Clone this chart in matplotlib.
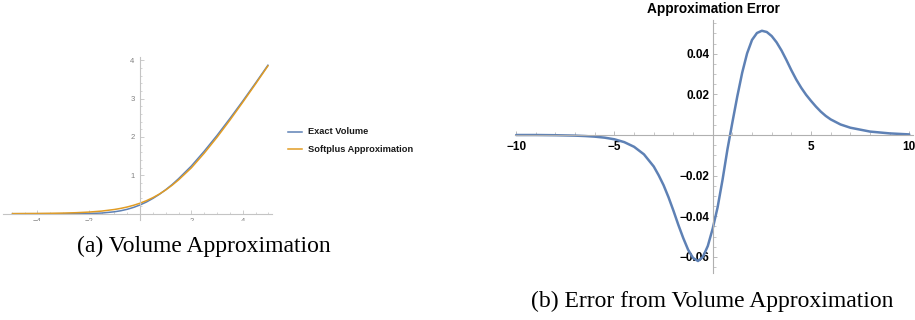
import matplotlib
matplotlib.use('Agg')
import matplotlib.pyplot as plt
from matplotlib.ticker import FixedLocator, MultipleLocator, FuncFormatter, NullFormatter
from matplotlib.lines import Line2D
from matplotlib.transforms import Bbox, TransformedBbox

# ---------------- data ----------------
vol_x = [-5.0, -4.5, -4.0, -3.5, -3.0, -2.5, -2.0, -1.5, -1.0, -0.75, -0.5, -0.25,
         0.0, 0.25, 0.5, 0.75, 1.0, 1.25, 1.5, 2.0, 2.5, 3.0, 3.5, 4.0, 4.5, 5.0]
exact_volume = [0.000, 0.000, 0.000, 0.000, 0.000, 0.001, 0.005, 0.017, 0.050, 0.077,
                0.115, 0.165, 0.228, 0.305, 0.398, 0.504, 0.625, 0.760, 0.912, 1.243,
                1.628, 2.040, 2.479, 2.933, 3.403, 3.884]
softplus_volume = [0.002, 0.004, 0.006, 0.010, 0.016, 0.026, 0.042, 0.068, 0.110, 0.139,
                   0.175, 0.220, 0.274, 0.340, 0.419, 0.511, 0.619, 0.742, 0.881, 1.196,
                   1.577, 1.992, 2.437, 2.902, 3.380, 3.867]
volume_labels = ["Exact Volume", "Softplus Approximation"]

err_x = [-10, -9, -8, -7, -6.5, -6, -5.5, -5, -4.5, -4, -3.5, -3, -2.75, -2.5, -2.25, -2,
         -1.75, -1.5, -1.25, -1, -0.75, -0.5, -0.25, 0, 0.25, 0.5, 0.75, 1, 1.25,
         1.5, 1.75, 2, 2.25, 2.5, 2.75, 3, 3.25, 3.5, 3.75, 4, 4.25, 4.5, 4.75, 5,
         5.25, 5.5, 5.75, 6, 6.5, 7, 8, 9, 10]
err_y = [-0.0000, -0.0000, -0.0001, -0.0003, -0.0005, -0.0008, -0.0013, -0.0021,
         -0.0035, -0.0058, -0.0095, -0.0155, -0.0198, -0.0247, -0.0306, -0.0372,
         -0.0442, -0.0507, -0.0565, -0.0605, -0.0620, -0.0600, -0.0546, -0.0460,
         -0.0355, -0.0220, -0.0070, 0.0062, 0.0190, 0.0307, 0.0402, 0.0468, 0.0502,
         0.0513, 0.0507, 0.0487, 0.0456, 0.0416, 0.0369, 0.0319, 0.0273, 0.0233,
         0.0198, 0.0168, 0.0140, 0.0115, 0.0094, 0.0077, 0.0052, 0.0036, 0.0017,
         0.0008, 0.0003]

left_xticks = [-4, -2, 2, 4]
left_yticks = [1, 2, 3, 4]
right_xticks = [-10, -5, 5, 10]
right_yticks = [-0.06, -0.04, -0.02, 0.02, 0.04]

BLUE = '#5E81B5'
ORANGE = '#E19C24'
W, H = 915, 320

def fx(px):
    return px / W

def fy(py):
    return 1 - py / H

fig = plt.figure(figsize=(W / 100, H / 100), dpi=100)
fig.patch.set_facecolor('white')

# ---------------- left: volume approximation ----------------
ax1 = fig.add_axes([fx(3.3), fy(220), (271.7 - 3.3) / W, (220 - 56.7) / H])
ax1.set_xlim(-5.33, 5.13)
ax1.set_ylim(-0.164, 4.09)
ax1.plot(vol_x, exact_volume, color=BLUE, lw=1.1, solid_capstyle='butt')
ax1.plot(vol_x, softplus_volume, color=ORANGE, lw=1.1, solid_capstyle='butt')
for s in ['top', 'right']:
    ax1.spines[s].set_visible(False)
for s in ['left', 'bottom']:
    ax1.spines[s].set_position(('data', 0))
    ax1.spines[s].set_color('#c4c4c4')
    ax1.spines[s].set_linewidth(0.8)
ax1.patch.set_alpha(0)
ax1.xaxis.set_major_locator(FixedLocator(left_xticks))
ax1.xaxis.set_minor_locator(MultipleLocator(0.5))
ax1.yaxis.set_major_locator(FixedLocator(left_yticks))
ax1.yaxis.set_minor_locator(MultipleLocator(0.2))
ax1.xaxis.set_major_formatter(NullFormatter())
ax1.tick_params(axis='both', which='major', direction='in', length=3, width=0.6, color='#c4c4c4')
ax1.tick_params(axis='both', which='minor', direction='in', length=1.6, width=0.5, color='#c4c4c4')
ax1.tick_params(axis='y', which='major', labelsize=5.5, labelcolor='#808080', pad=4)
for lbl in ax1.get_yticklabels():
    lbl.set_family('Liberation Sans')
clipbox = TransformedBbox(Bbox([[0, fy(220.5)], [1, 1]]), fig.transFigure)
for v in left_xticks:
    t = ax1.text(v, -0.2, str(v).replace('-', '\u2212'), ha='center', va='center',
                 fontsize=5.5, color='#808080', family='Liberation Sans')
    t.set_clip_path(None)
    t.set_clip_box(clipbox)
    t.set_clip_on(True)

# legend
for py, col, lab in [(131.7, BLUE, volume_labels[0]), (149.3, ORANGE, volume_labels[1])]:
    fig.add_artist(Line2D([fx(288.3), fx(301.7)], [fy(py), fy(py)], color=col, lw=1.1,
                          transform=fig.transFigure))
    fig.text(fx(308.3), fy(py), lab, ha='left', va='center', fontsize=6.7,
             fontweight='bold', family='Liberation Sans', color='#1a1a1a')

# ---------------- right: approximation error ----------------
ax2 = fig.add_axes([fx(515), fy(273), (913 - 515) / W, (273 - 20) / H])
ax2.set_xlim(-10.06, 10.19)
ax2.set_ylim(-0.0679, 0.0566)
ax2.plot(err_x, err_y, color=BLUE, lw=1.8, solid_capstyle='round', solid_joinstyle='round')
ax2.patch.set_alpha(0)
for s in ['top', 'right']:
    ax2.spines[s].set_visible(False)
for s in ['left', 'bottom']:
    ax2.spines[s].set_position(('data', 0))
    ax2.spines[s].set_color('#b0b0b0')
    ax2.spines[s].set_linewidth(0.8)
ax2.xaxis.set_major_locator(FixedLocator(right_xticks))
ax2.xaxis.set_minor_locator(MultipleLocator(1))
ax2.yaxis.set_major_locator(FixedLocator(right_yticks))
ax2.yaxis.set_minor_locator(MultipleLocator(0.005))
ax2.xaxis.set_major_formatter(FuncFormatter(lambda v, p: f"{v:g}".replace('-', '\u2212')))
ax2.yaxis.set_major_formatter(FuncFormatter(lambda v, p: f"{v:.2f}".replace('-', '\u2212')))
ax2.tick_params(axis='both', which='major', direction='in', length=3.2, width=0.6, color='#b0b0b0')
ax2.tick_params(axis='both', which='minor', direction='in', length=2.0, width=0.5, color='#b0b0b0')
ax2.tick_params(axis='x', which='major', labelsize=8.5, pad=4.6)
ax2.tick_params(axis='y', which='major', labelsize=8.5, pad=2.4)
for lbl in ax2.get_xticklabels() + ax2.get_yticklabels():
    lbl.set_family('Liberation Sans')
    lbl.set_fontweight('bold')

fig.text(fx(713), fy(9.3), 'Approximation Error', ha='center', va='center',
         fontsize=9.8, fontweight='bold', family='Liberation Sans')

# ---------------- captions ----------------
fig.text(fx(204), fy(246.5), '(a) Volume Approximation', ha='center', va='center',
         fontsize=17, family='Liberation Serif')
fig.text(fx(712.5), fy(301.5), '(b) Error from Volume Approximation', ha='center', va='center',
         fontsize=17, family='Liberation Serif')

fig.savefig('out.png', dpi=100, facecolor='white')
